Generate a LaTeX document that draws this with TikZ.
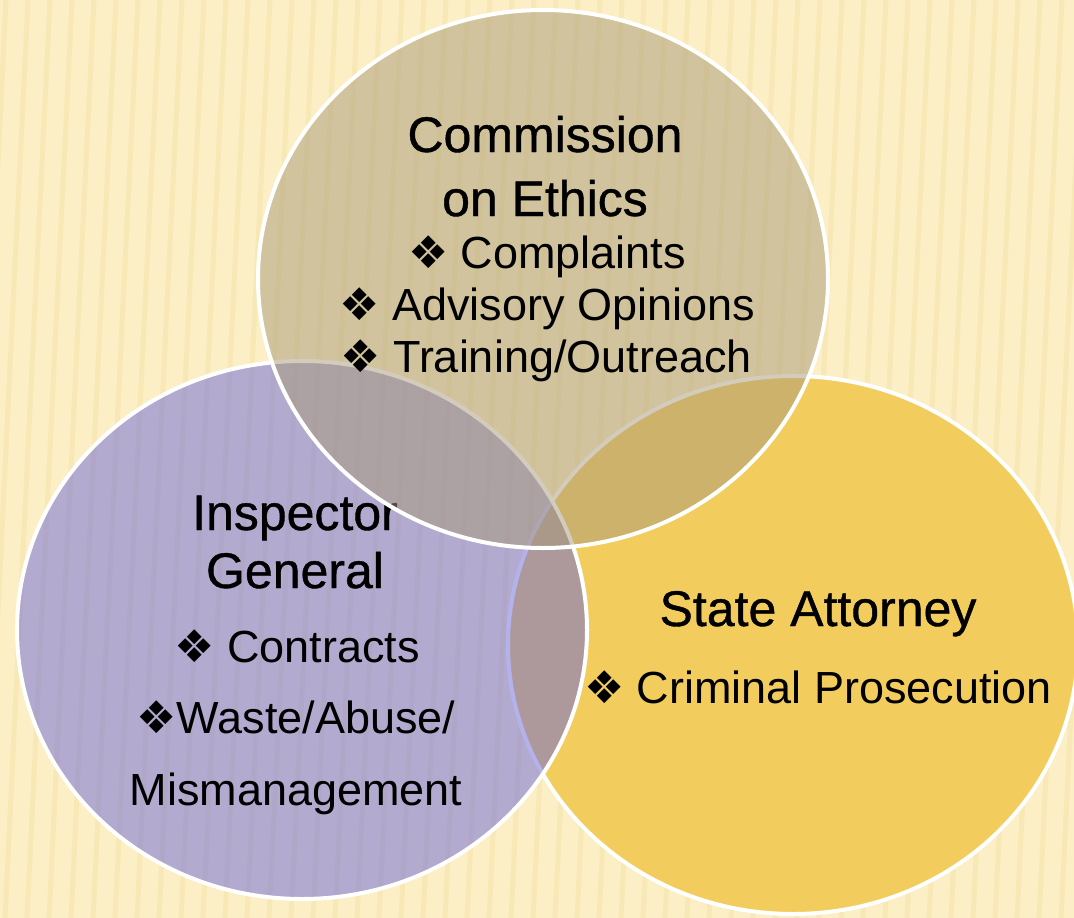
\documentclass[tikz,border=0pt]{standalone}
\usepackage{fontspec}
\usetikzlibrary{shapes.geometric}
\setmainfont{Liberation Sans}
\newfontfamily\symfont{DejaVu Sans}
\newfontfamily\headfont[FakeBold=0.8]{Liberation Sans}

\definecolor{paper}{HTML}{FCEFC5}
\definecolor{pleat}{HTML}{F1DC9C}
\definecolor{ethicsfill}{RGB}{168,153,120}
\definecolor{inspectfill}{RGB}{106,103,218}
\definecolor{attorneyfill}{RGB}{242,205,94}

\newcommand{\itm}{{\symfont ❖}}

\tikzset{
  blob/.style={ellipse, draw=white, line width=4pt, inner sep=0pt,
    minimum width=570pt, minimum height=538pt},
  head/.style={anchor=base, font=\headfont\fontsize{50}{60}\selectfont},
  item/.style={anchor=base, font=\fontsize{45}{52}\selectfont},
  stripe/.style={pleat, line width=5pt, opacity=0.35},
}

\begin{document}
\begin{tikzpicture}[x=1pt, y=-1pt]
\useasboundingbox (0,0) rectangle (1074,918);

% striped paper behind everything
\begin{scope}
  \clip (0,0) rectangle (1074,918);
  \fill[paper] (0,0) rectangle (1074,918);
  \foreach \x in {-60,-38,...,1180}
    \draw[stripe] (\x,0) -- ++(-45,918);
\end{scope}

% back two circles
\node[blob, fill=attorneyfill] (attorney) at (793,645) {};
\node[blob, fill=inspectfill, fill opacity=0.5] (inspector) at (302,630) {};

% Inspector General (sits under the top circle)
\node[head] (ig1) at (295,530) {Inspector};
\node[head] (ig2) at (295,588) {General};
\node[item] (ig3) at (297,662) {\itm{} Contracts};
\node[item] (ig4) at (296,733) {\itm{}Waste/Abuse/};
\node[item] (ig5) at (296,805) {Mismanagement};

% top circle
\node[blob, fill=ethicsfill, fill opacity=0.5] (ethics) at (543,279) {};

% Commission on Ethics
\node[head] (ce1) at (545,152) {Commission};
\node[head] (ce2) at (545,216) {on Ethics};
\node[item] (ce3) at (547,268) {\itm{} Complaints};
\node[item] (ce4) at (547,320) {\itm{} Advisory Opinions};
\node[item] (ce5) at (546,372) {\itm{} Training/Outreach};

% State Attorney
\node[head] (sa1) at (818,626) {State Attorney};
\node[item] (sa2) at (818,703) {\itm{} Criminal Prosecution};

\end{tikzpicture}
\end{document}
